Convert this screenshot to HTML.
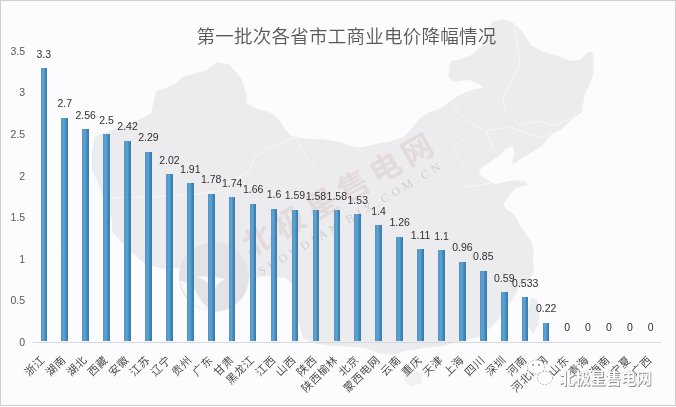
<!DOCTYPE html>
<html><head><meta charset="utf-8"><style>
html,body{margin:0;padding:0;}
body{width:676px;height:407px;overflow:hidden;position:relative;background:#fcfbfd;font-family:"Liberation Sans","Noto Sans CJK SC",sans-serif;}
.frame{position:absolute;left:0;top:0;width:674px;height:404px;border:1px solid #cfcfcf;border-right-width:2px;box-sizing:content-box;}
.map{position:absolute;left:0;top:0;width:676px;height:407px;}
.title{position:absolute;left:196.5px;top:21.8px;font-weight:350;font-size:18.5px;color:#595959;white-space:nowrap;font-family:"Noto Sans CJK SC",sans-serif;letter-spacing:0.25px;}
.bar{position:absolute;background:linear-gradient(90deg,#6390b2 0%,#5a99c9 18%,#5aa6d9 42%,#4891c6 62%,#3c83b7 80%,#46789a 100%);}
.val{position:absolute;width:40px;text-align:center;font-size:10.5px;line-height:14px;color:#303030;white-space:nowrap;}
.yl{position:absolute;right:651px;font-size:10.5px;line-height:14px;color:#595959;text-align:right;}
.logo{position:absolute;left:177.5px;top:240.5px;width:72px;height:72px;}
.wm{position:absolute;left:338.5px;top:191.5px;transform:translate(-50%,-50%) rotate(-29.5deg);font-size:31px;line-height:36px;letter-spacing:5.7px;font-weight:bold;color:rgba(200,165,165,0.26);white-space:nowrap;font-family:"Noto Sans CJK SC",sans-serif;}
.wm2{position:absolute;left:351px;top:218px;transform:translate(-50%,-50%) rotate(-30.5deg);font-size:12px;line-height:14px;letter-spacing:4px;color:rgba(140,140,140,0.3);white-space:nowrap;font-family:"Liberation Serif",serif;}
.br{position:absolute;left:559.5px;top:366.5px;font-size:15.6px;line-height:20px;font-weight:bold;color:#fff;text-shadow:0.8px 0.8px 0 #888,0 0 0.8px #aaa;white-space:nowrap;font-family:"Noto Sans CJK SC",sans-serif;letter-spacing:-0.3px;}
.wx{position:absolute;left:524px;top:359px;}
.axis{position:absolute;left:33px;top:342px;width:628px;height:1px;background:#d9d9d9;}
.xl{position:absolute;font-size:11px;font-weight:350;letter-spacing:0.5px;line-height:12px;color:#404040;white-space:nowrap;transform:rotate(-45deg);transform-origin:100% 50%;font-family:"Noto Sans CJK SC",sans-serif;}
</style></head><body>
<div class="map"><svg width="676" height="407" viewBox="0 0 676 407" style="position:absolute;left:0;top:0">
<g fill="#ececef" stroke="none">
<polygon points="95.0,136.0 107.0,132.0 119.0,127.0 134.0,122.0 144.0,117.0 150.9,113.7 156.0,91.6 175.4,84.0 182.8,76.8 192.6,74.4 207.4,69.5 217.0,62.0 229.5,64.6 241.7,79.3 246.6,94.0 246.6,103.8 258.0,109.0 270.0,112.4 278.3,118.6 284.5,129.0 290.7,135.2 303.0,138.3 321.8,139.3 338.3,141.4 346.6,144.5 357.0,147.6 365.2,146.6 377.7,143.5 390.0,141.4 402.5,137.3 410.0,131.0 419.0,119.0 428.8,112.8 441.0,108.0 451.0,100.5 460.7,94.4 473.0,89.5 483.0,88.3 480.4,84.6 468.0,79.7 453.4,82.0 448.5,77.2 449.7,65.0 451.2,61.0 459.2,59.5 472.0,54.7 484.7,43.5 488.0,29.0 492.7,21.2 504.0,19.0 513.5,22.8 523.0,32.4 531.0,45.0 542.0,51.5 558.0,56.0 571.0,61.0 580.6,59.5 588.6,51.5 593.4,53.0 593.4,74.0 590.0,83.5 584.0,96.0 584.0,98.0 582.0,112.0 575.0,117.0 567.0,124.0 562.0,129.0 553.0,133.0 548.0,138.0 543.0,145.0 536.0,150.0 527.0,155.0 519.0,160.0 513.0,165.0 512.0,160.4 515.0,152.5 512.0,146.6 506.3,148.6 498.4,156.4 486.6,164.3 478.8,170.2 480.7,176.0 484.6,178.0 494.5,184.0 504.3,182.0 516.0,180.0 526.0,182.0 528.0,185.0 516.0,188.0 510.0,194.0 506.3,199.7 503.0,205.0 507.0,209.7 515.0,215.0 520.5,226.0 526.0,234.0 531.4,242.0 534.0,250.0 532.7,258.0 534.0,266.5 532.7,274.6 528.4,280.0 518.6,288.0 512.7,299.5 504.8,309.3 499.0,319.0 489.0,329.0 479.3,336.8 466.0,340.0 452.0,343.0 443.0,346.0 425.0,348.0 405.0,351.0 392.0,355.0 378.0,353.0 366.0,348.0 352.0,347.0 338.0,346.0 325.0,345.0 312.0,343.0 303.0,338.0 298.0,320.0 296.0,300.0 294.0,285.0 285.0,278.0 270.0,276.0 250.0,278.0 230.0,278.0 210.0,276.0 190.0,272.0 174.0,267.6 163.0,268.7 154.0,266.5 143.0,262.0 132.0,253.0 123.0,244.0 112.0,232.0 112.0,219.0 107.0,207.0 102.0,194.0 97.0,180.0 92.0,170.0 92.0,150.0"/>
<polygon points="531.0,297.0 537.0,300.0 540.0,310.0 538.0,325.0 533.0,334.0 528.0,326.0 528.0,310.0"/>
<polygon points="405.0,374.0 414.0,370.0 422.0,374.0 421.0,383.0 412.0,387.0 405.0,382.0" fill="#f1f1f4"/>
</g>
<g fill="none" stroke="#f7f7f9" stroke-width="0.9" stroke-linejoin="round"><polyline points="100.0,198.0 140.0,197.0 170.0,196.0 200.0,194.0 222.0,190.0 238.0,178.0 250.0,170.0 255.0,157.0 267.0,149.0 279.0,144.0 291.0,139.0 297.0,137.0"/><polyline points="297.0,137.0 301.0,149.0 306.0,156.0 313.0,164.0 316.0,171.0"/><polyline points="513.0,22.0 516.0,35.0 520.0,64.0 510.0,84.0 503.0,98.0 506.0,113.0 521.0,126.0"/><polyline points="521.0,125.0 538.0,121.0 555.0,126.0 572.0,118.0 583.0,104.0"/><polyline points="513.0,128.0 531.0,135.0 544.0,138.0 551.0,131.0"/><polyline points="486.0,131.0 493.0,149.0 500.0,153.0"/><polyline points="469.0,135.0 452.0,149.0 462.0,163.0 470.0,170.0"/><polyline points="459.0,183.0 469.0,187.0 490.0,183.0"/><polyline points="451.0,101.0 458.0,112.0 468.0,121.0 478.0,127.0 486.0,131.0 500.0,128.0 513.0,128.0"/></g>
</svg></div>
<div class="logo"><svg width="72" height="72" viewBox="0 0 72 72"><circle cx="36" cy="36" r="35" fill="#e3e3e7"/><path d="M2 40 C6 58 20 70 34 71 C26 64 20 56 16 46 C12 42 6 40 2 40 Z" fill="#f8f8fa"/><path d="M18 36 C26 38 32 42 36 50 C38 44 42 40 48 38 C40 36 28 34 18 36 Z" fill="#f8f8fa"/></svg></div>
<div class="wm">北极星售电网</div>
<div class="wm2">SHOUDIAN.BJX.COM.CN</div>
<div class="frame"></div>
<div class="title">第一批次各省市工商业电价降幅情况</div>
<div class="axis"></div>
<div class="yl" style="top:335.00px">0</div><div class="yl" style="top:293.38px">0.5</div><div class="yl" style="top:251.75px">1</div><div class="yl" style="top:210.12px">1.5</div><div class="yl" style="top:168.50px">2</div><div class="yl" style="top:126.88px">2.5</div><div class="yl" style="top:85.25px">3</div><div class="yl" style="top:43.62px">3.5</div>
<div class="bar" style="left:41px;width:6px;top:68.09px;height:272.91px"></div><div class="val" style="left:23.80px;top:46.69px">3.3</div><div class="xl" style="right:633.70px;top:350.50px">浙江</div><div class="bar" style="left:61px;width:7px;top:117.71px;height:223.29px"></div><div class="val" style="left:44.73px;top:96.31px">2.7</div><div class="xl" style="right:612.77px;top:350.50px">湖南</div><div class="bar" style="left:82px;width:7px;top:129.29px;height:211.71px"></div><div class="val" style="left:65.66px;top:107.89px">2.56</div><div class="xl" style="right:591.84px;top:350.50px">湖北</div><div class="bar" style="left:103px;width:7px;top:134.25px;height:206.75px"></div><div class="val" style="left:86.59px;top:112.85px">2.5</div><div class="xl" style="right:570.91px;top:350.50px">西藏</div><div class="bar" style="left:124px;width:7px;top:140.87px;height:200.13px"></div><div class="val" style="left:107.52px;top:119.47px">2.42</div><div class="xl" style="right:549.98px;top:350.50px">安徽</div><div class="bar" style="left:145px;width:7px;top:151.62px;height:189.38px"></div><div class="val" style="left:128.45px;top:130.22px">2.29</div><div class="xl" style="right:529.05px;top:350.50px">江苏</div><div class="bar" style="left:166px;width:7px;top:173.95px;height:167.05px"></div><div class="val" style="left:149.38px;top:152.55px">2.02</div><div class="xl" style="right:508.12px;top:350.50px">辽宁</div><div class="bar" style="left:187px;width:7px;top:183.04px;height:157.96px"></div><div class="val" style="left:170.31px;top:161.64px">1.91</div><div class="xl" style="right:487.19px;top:350.50px">贵州</div><div class="bar" style="left:208px;width:7px;top:193.79px;height:147.21px"></div><div class="val" style="left:191.24px;top:172.39px">1.78</div><div class="xl" style="right:466.26px;top:350.50px">广东</div><div class="bar" style="left:229px;width:6px;top:197.10px;height:143.90px"></div><div class="val" style="left:212.17px;top:175.70px">1.74</div><div class="xl" style="right:445.33px;top:350.50px">甘肃</div><div class="bar" style="left:250px;width:6px;top:203.72px;height:137.28px"></div><div class="val" style="left:233.10px;top:182.32px">1.66</div><div class="xl" style="right:424.40px;top:350.50px">黑龙江</div><div class="bar" style="left:271px;width:6px;top:208.68px;height:132.32px"></div><div class="val" style="left:254.03px;top:187.28px">1.6</div><div class="xl" style="right:403.47px;top:350.50px">江西</div><div class="bar" style="left:292px;width:6px;top:209.51px;height:131.49px"></div><div class="val" style="left:274.96px;top:188.11px">1.59</div><div class="xl" style="right:382.54px;top:350.50px">山西</div><div class="bar" style="left:313px;width:6px;top:210.33px;height:130.67px"></div><div class="val" style="left:295.89px;top:188.93px">1.58</div><div class="xl" style="right:361.61px;top:350.50px">陕西</div><div class="bar" style="left:334px;width:6px;top:210.33px;height:130.67px"></div><div class="val" style="left:316.82px;top:188.93px">1.58</div><div class="xl" style="right:340.68px;top:350.50px">陕西榆林</div><div class="bar" style="left:354px;width:7px;top:214.47px;height:126.53px"></div><div class="val" style="left:337.75px;top:193.07px">1.53</div><div class="xl" style="right:319.75px;top:350.50px">北京</div><div class="bar" style="left:375px;width:7px;top:225.22px;height:115.78px"></div><div class="val" style="left:358.68px;top:203.82px">1.4</div><div class="xl" style="right:298.82px;top:350.50px">蒙西电网</div><div class="bar" style="left:396px;width:7px;top:236.80px;height:104.20px"></div><div class="val" style="left:379.61px;top:215.40px">1.26</div><div class="xl" style="right:277.89px;top:350.50px">云南</div><div class="bar" style="left:417px;width:7px;top:249.20px;height:91.80px"></div><div class="val" style="left:400.54px;top:227.80px">1.11</div><div class="xl" style="right:256.96px;top:350.50px">重庆</div><div class="bar" style="left:438px;width:7px;top:250.03px;height:90.97px"></div><div class="val" style="left:421.47px;top:228.63px">1.1</div><div class="xl" style="right:236.03px;top:350.50px">天津</div><div class="bar" style="left:459px;width:7px;top:261.61px;height:79.39px"></div><div class="val" style="left:442.40px;top:240.21px">0.96</div><div class="xl" style="right:215.10px;top:350.50px">上海</div><div class="bar" style="left:480px;width:7px;top:270.70px;height:70.30px"></div><div class="val" style="left:463.33px;top:249.30px">0.85</div><div class="xl" style="right:194.17px;top:350.50px">四川</div><div class="bar" style="left:501px;width:7px;top:292.21px;height:48.79px"></div><div class="val" style="left:484.26px;top:270.81px">0.59</div><div class="xl" style="right:173.24px;top:350.50px">深圳</div><div class="bar" style="left:522px;width:6px;top:296.92px;height:44.08px"></div><div class="val" style="left:505.19px;top:275.52px">0.533</div><div class="xl" style="right:152.31px;top:350.50px">河南</div><div class="bar" style="left:543px;width:6px;top:322.81px;height:18.19px"></div><div class="val" style="left:526.12px;top:301.41px">0.22</div><div class="xl" style="right:131.38px;top:350.50px">河北南网</div><div class="val" style="left:547.05px;top:319.60px">0</div><div class="xl" style="right:110.45px;top:350.50px">山东</div><div class="val" style="left:567.98px;top:319.60px">0</div><div class="xl" style="right:89.52px;top:350.50px">青海</div><div class="val" style="left:588.91px;top:319.60px">0</div><div class="xl" style="right:68.59px;top:350.50px">海南</div><div class="val" style="left:609.84px;top:319.60px">0</div><div class="xl" style="right:47.66px;top:350.50px">宁夏</div><div class="val" style="left:630.77px;top:319.60px">0</div><div class="xl" style="right:26.73px;top:350.50px">广西</div>
<div class="br">北极星售电网</div>
<svg class="wx" width="34" height="30" viewBox="0 0 34 30"><ellipse cx="12" cy="8" rx="8.5" ry="7" fill="#fff" stroke="#999" stroke-width="0.8" stroke-dasharray="1.5 1.5"/><ellipse cx="21" cy="19" rx="7.5" ry="6.5" fill="#fff" stroke="#999" stroke-width="0.8" stroke-dasharray="1.5 1.5"/><circle cx="9" cy="6" r="1" fill="#888"/><circle cx="15" cy="6" r="1" fill="#888"/></svg>
</body></html>
